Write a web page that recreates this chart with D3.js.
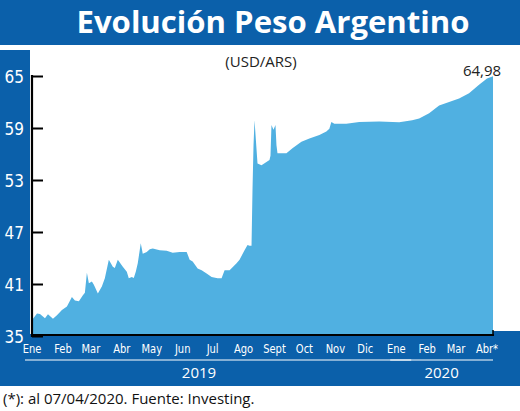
<!DOCTYPE html>
<html><head><meta charset="utf-8">
<script src="https://cdn.jsdelivr.net/npm/d3@7"></script>
<style>
html,body{margin:0;padding:0;background:#fff;}
svg{display:block;}
</style></head>
<body>
<svg id="c" width="520" height="411"></svg>
<script>
// ---- data ----
const dates = [
"2019-01-02","2019-01-06","2019-01-09","2019-01-14","2019-01-17","2019-01-22","2019-01-26","2019-01-31",
"2019-02-05","2019-02-10","2019-02-13","2019-02-17","2019-02-21","2019-02-23","2019-02-25","2019-02-27",
"2019-03-02","2019-03-04","2019-03-08","2019-03-12","2019-03-15","2019-03-19","2019-03-23","2019-03-25","2019-03-28",
"2019-04-02","2019-04-06","2019-04-08","2019-04-11","2019-04-13","2019-04-15","2019-04-17","2019-04-20","2019-04-22","2019-04-26","2019-04-29",
"2019-05-02","2019-05-09","2019-05-16","2019-05-22","2019-05-29",
"2019-06-05","2019-06-08","2019-06-11","2019-06-16","2019-06-20","2019-06-25","2019-06-30",
"2019-07-06","2019-07-10","2019-07-13","2019-07-18","2019-07-25","2019-07-28",
"2019-08-02","2019-08-05","2019-08-07","2019-08-09","2019-08-10","2019-08-11","2019-08-12","2019-08-15","2019-08-19","2019-08-27","2019-08-28","2019-08-29","2019-08-31",
"2019-09-02","2019-09-03","2019-09-04","2019-09-13","2019-09-19","2019-09-28",
"2019-10-06","2019-10-16","2019-10-23","2019-10-26","2019-10-28","2019-10-31",
"2019-11-12","2019-11-25","2019-12-15",
"2020-01-04","2020-01-17","2020-01-24","2020-02-03","2020-02-13","2020-02-23","2020-03-04","2020-03-14","2020-03-24","2020-04-01","2020-04-07"
];
const values = [
37.0,37.6,37.55,37.05,37.5,37.0,37.4,38.0,
38.4,39.5,39.1,39.0,39.7,40.0,42.3,41.1,
41.3,40.9,39.9,40.7,41.65,43.8,43.0,42.85,43.8,
43.0,42.4,41.65,41.8,41.7,42.4,43.4,45.7,44.5,44.7,45.0,
45.1,44.9,44.85,44.6,44.7,
44.7,43.8,43.6,42.8,42.6,42.2,41.8,
41.65,41.65,42.6,42.6,43.4,43.8,
44.9,45.5,45.4,45.4,52.0,57.0,59.9,54.9,54.7,55.3,55.8,59.35,58.8,
59.35,57.0,56.1,56.1,56.65,57.4,
57.8,58.2,58.6,58.9,59.7,59.5,
59.5,59.7,59.75,
59.65,59.9,60.1,60.7,61.6,62.0,62.4,63.0,64.0,64.7,64.98
];
const yTicks = [35,41,47,53,59,65];
const monthTicks = ["2019-01-01","2019-02-01","2019-03-01","2019-04-01","2019-05-01","2019-06-01","2019-07-01","2019-08-01","2019-09-01","2019-10-01","2019-11-01","2019-12-01","2020-01-01","2020-02-01","2020-03-01","2020-04-01"];
const monthLabels = ["Ene","Feb","Mar","Abr","May","Jun","Jul","Ago","Sept","Oct","Nov","Dic","Ene","Feb","Mar","Abr*"];
const years = [{label:"2019", from:"2019-01-01", to:"2019-12-31"},{label:"2020", from:"2020-01-01", to:"2020-04-07"}];
const title = "Evolución Peso Argentino";
const subtitle = "(USD/ARS)";
const lastLabel = "64,98";
const footnote = "(*): al 07/04/2020. Fuente: Investing.";

// ---- drawing ----
const parse = d3.utcParse("%Y-%m-%d");
const data = dates.map((d,i)=>({date:parse(d), value:values[i]}));
const BLUE = "#0b60aa", AREA = "#50b0e1";
const svg = d3.select("#c");

const x = d3.scaleUtc().domain([parse("2019-01-02"), parse("2020-04-07")]).range([33, 493]);
const y = d3.scaleLinear().domain([35,65]).range([336,76]);

// frame
svg.append("rect").attr("x",0).attr("y",0).attr("width",520).attr("height",45).attr("fill",BLUE);
svg.append("rect").attr("x",0).attr("y",50).attr("width",30).attr("height",336).attr("fill",BLUE);
svg.append("rect").attr("x",0).attr("y",334).attr("width",520).attr("height",52).attr("fill",BLUE);
svg.append("rect").attr("x",493).attr("y",331).attr("width",27).attr("height",10).attr("fill",BLUE);

svg.append("text").attr("x",273).attr("y",33).attr("text-anchor","middle")
  .attr("font-family","'Open Sans', sans-serif").attr("font-weight","700").attr("font-size",30)
  .attr("fill","#fff").attr("textLength",393).attr("lengthAdjust","spacingAndGlyphs").text(title);

svg.append("text").attr("x",261).attr("y",67).attr("text-anchor","middle")
  .attr("font-family","'Open Sans', sans-serif").attr("font-size",15).attr("fill","#222").text(subtitle);

// area
const area = d3.area().x(d=>x(d.date)).y0(y(35)).y1(d=>y(d.value));
svg.append("path").datum(data).attr("d",area).attr("fill",AREA);

// y axis
const yAxis = svg.append("g").attr("transform","translate(32,0)")
  .call(d3.axisRight(y).tickValues(yTicks).tickSize(11).tickFormat(""));
yAxis.select(".domain").remove();
yAxis.selectAll(".tick line").attr("stroke","#000").attr("stroke-width",2);
svg.append("line").attr("x1",32).attr("x2",32).attr("y1",y(65)-1).attr("y2",y(35)+1).attr("stroke","#000").attr("stroke-width",2.2);
svg.selectAll("text.ylab").data(yTicks).join("text").attr("class","ylab")
  .attr("x",24).attr("y",d=>y(d)+7).attr("text-anchor","end")
  .attr("font-family","'Liberation Sans Narrow', 'DejaVu Sans Condensed', sans-serif").attr("font-size",17)
  .attr("fill","#fff").text(d=>d);

// x axis line
svg.append("line").attr("x1",31).attr("x2",x(parse("2020-04-07"))+1).attr("y1",335).attr("y2",335).attr("stroke","#000").attr("stroke-width",2);
svg.append("line").attr("x1",x(parse("2020-04-07"))).attr("x2",x(parse("2020-04-07"))).attr("y1",336).attr("y2",330).attr("stroke","#000").attr("stroke-width",1.5);

// month labels
const xAxis = svg.append("g").attr("transform","translate(0,336)")
  .call(d3.axisBottom(x).tickValues(monthTicks.map(parse)).tickSize(0).tickPadding(8)
    .tickFormat((d,i)=>monthLabels[i]));
xAxis.select(".domain").remove();
xAxis.selectAll("text").attr("fill","#fff").attr("font-size",13)
  .attr("font-family","'Liberation Sans Narrow', 'DejaVu Sans Condensed', sans-serif")
  .attr("transform","scale(0.85,1)")
  .each(function(){ const t=d3.select(this.parentNode).attr("transform"); });
// compensate scale: reposition ticks
xAxis.selectAll(".tick").each(function(d){
  const tx = x(d);
  d3.select(this).attr("transform",`translate(${tx},0)`);
});

// year underlines and labels
years.forEach((yr,i)=>{
  const x0 = i===0 ? 25 : x(parse(yr.from))-6;
  const x1 = i===0 ? x(parse(yr.to))+16 : x(parse(yr.to));
  svg.append("line").attr("x1",x0).attr("x2",x1).attr("y1",360).attr("y2",360).attr("stroke","#fff").attr("stroke-width",1);
  svg.append("text").attr("x", i===0 ? 199 : (x0+x1)/2).attr("y",378).attr("text-anchor","middle")
    .attr("font-family","'Open Sans', sans-serif").attr("font-size",15).attr("fill","#fff").text(yr.label);
});

// last value label
svg.append("text").attr("x",x(data[data.length-1].date)-11).attr("y",76).attr("text-anchor","middle")
  .attr("font-family","'Open Sans', sans-serif").attr("font-size",15).attr("fill","#222").text(lastLabel);

// footnote
svg.append("text").attr("x",3).attr("y",404)
  .attr("font-family","'Open Sans', sans-serif").attr("font-size",15).attr("fill","#111").text(footnote);
</script>
</body></html>
